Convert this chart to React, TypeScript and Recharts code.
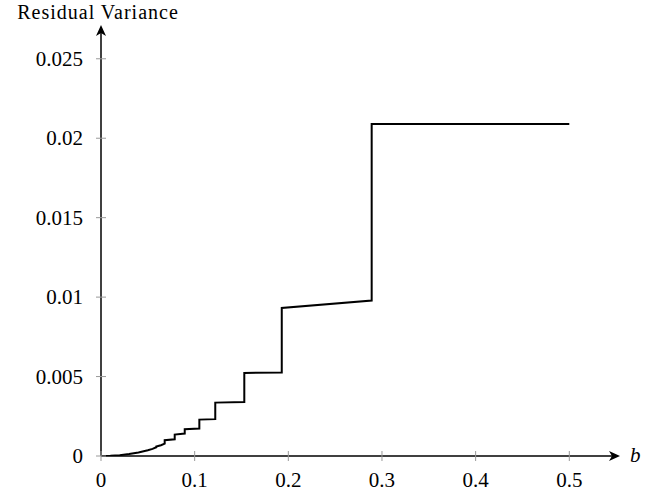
import React from 'react';
import { LineChart, Line, XAxis, YAxis, ReferenceDot } from 'recharts';

const bValues = [0, 0.01, 0.02, 0.03, 0.04, 0.05, 0.055, 0.059, 0.059, 0.064, 0.068, 0.068, 0.0787, 0.0787, 0.0894, 0.0894, 0.105, 0.105, 0.122, 0.122, 0.153, 0.153, 0.193, 0.193, 0.289, 0.289, 0.5];
const residualVariance = [0, 0.00001, 0.00005, 0.00012, 0.00022, 0.00036, 0.00045, 0.00055, 0.0006, 0.00068, 0.00078, 0.00099, 0.00105, 0.00135, 0.00141, 0.00168, 0.00173, 0.00229, 0.00232, 0.00336, 0.0034, 0.00523, 0.00526, 0.00932, 0.00978, 0.02089, 0.02089];
const xTicks = [0, 0.1, 0.2, 0.3, 0.4, 0.5];
const yTicks = [0, 0.005, 0.01, 0.015, 0.02, 0.025];
const xLabels = ['0', '0.1', '0.2', '0.3', '0.4', '0.5'];
const yLabels = ['0', '0.005', '0.01', '0.015', '0.02', '0.025'];
const yTitle = 'Residual Variance';
const xTitle = 'b';

const data = bValues.map((b, i) => ({ b, v: residualVariance[i] }));

const FONT = '"Liberation Serif", "DejaVu Serif", serif';
const FS = 21;

const XTick = (props: any) => {
  const { x, y, payload } = props;
  const idx = xTicks.indexOf(payload.value);
  return (
    <g>
      <line x1={x} x2={x} y1={y - 5} y2={y + 5} stroke="#999" strokeWidth={1} />
      <text x={x} y={y + 31} textAnchor="middle" fontFamily={FONT} fontSize={FS} fill="#000">
        {idx >= 0 ? xLabels[idx] : payload.value}
      </text>
    </g>
  );
};

const YTick = (props: any) => {
  const { x, y, payload } = props;
  const idx = yTicks.indexOf(payload.value);
  return (
    <g>
      <line x1={x - 5} x2={x + 5} y1={y} y2={y} stroke="#999" strokeWidth={1} />
      <text x={x - 18} y={y + 7} textAnchor="end" fontFamily={FONT} fontSize={FS} fill="#000">
        {idx >= 0 ? yLabels[idx] : payload.value}
      </text>
    </g>
  );
};

const XArrow = (props: any) => {
  const { cx, cy } = props;
  return (
    <g>
      <path d={`M${cx + 2},${cy} L${cx - 9},${cy - 5} L${cx - 6},${cy} L${cx - 9},${cy + 5} Z`} fill="#000" />
      <text x={cx + 12} y={cy + 6} fontFamily={FONT} fontStyle="italic" fontSize={FS} fill="#000">{xTitle}</text>
    </g>
  );
};

const YArrow = (props: any) => {
  const { cx, cy } = props;
  return (
    <g>
      <path d={`M${cx},${cy - 2} L${cx - 5},${cy + 9} L${cx},${cy + 6} L${cx + 5},${cy + 9} Z`} fill="#000" />
      <text x={cx - 3} y={cy - 8} textAnchor="middle" fontFamily={FONT} fontSize={20} letterSpacing={1} fill="#000">{yTitle}</text>
    </g>
  );
};

export default function App() {
  return (
    <div style={{ position: 'absolute', left: 0, top: 0, width: 660, height: 495, background: '#fff' }}>
      <LineChart width={660} height={495} data={data} margin={{ top: 27, right: 42, bottom: 0, left: 0 }}>
        <XAxis
          type="number"
          dataKey="b"
          domain={[0, 0.552]}
          ticks={xTicks}
          tickSize={0}
          tickMargin={0}
          tickLine={false}
          height={39}
          axisLine={{ stroke: '#000', strokeWidth: 1.5 }}
          tick={<XTick />}
          allowDataOverflow
        />
        <YAxis
          type="number"
          domain={[0, 0.027]}
          ticks={yTicks}
          tickSize={0}
          tickMargin={0}
          tickLine={false}
          width={101}
          axisLine={{ stroke: '#000', strokeWidth: 1.5 }}
          tick={<YTick />}
          allowDataOverflow
        />
        <Line type="linear" dataKey="v" stroke="#000" strokeWidth={2} dot={false} isAnimationActive={false} />
        <ReferenceDot x={0.552} y={0} ifOverflow="visible" shape={<XArrow />} />
        <ReferenceDot x={0} y={0.027} ifOverflow="visible" shape={<YArrow />} />
      </LineChart>
    </div>
  );
}
